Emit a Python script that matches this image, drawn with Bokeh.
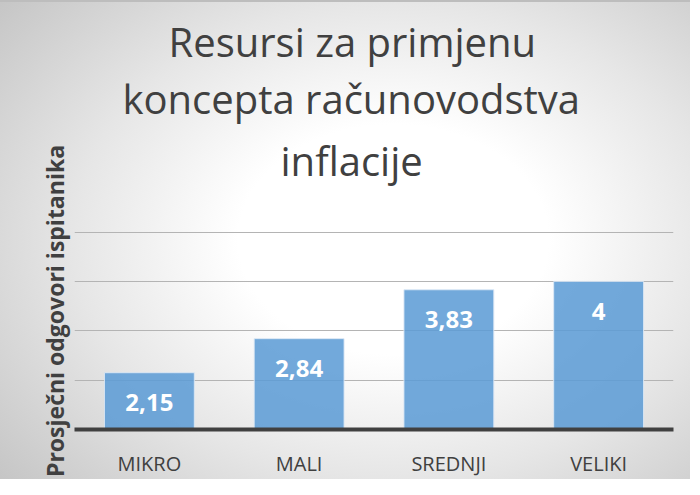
from bokeh.plotting import figure
from bokeh.models import (ColumnDataSource, FactorRange, Range1d, FixedTicker,
                          LabelSet, Title)
from bokeh.core.properties import value
from bokeh.embed import file_html
from bokeh.resources import INLINE

# ---- data ----
categories = ["MIKRO", "MALI", "SREDNJI", "VELIKI"]
values = [2.15, 2.84, 3.83, 4.0]
y_min = 1
y_max = 5.8
y_ticks = [1, 2, 3, 4, 5]
title_lines = ["Resursi za primjenu", "koncepta računovodstva", "inflacije"]
y_label = "Prosječni odgovori ispitanika"

labels = [f"{v:g}".replace(".", ",") for v in values]
source = ColumnDataSource(dict(cat=categories, val=values, lab=labels,
                               base=[y_min] * len(values)))

FONT = "Open Sans"
TXT = "#404040"

p = figure(width=690, height=479, x_range=FactorRange(*categories),
           y_range=Range1d(y_min, y_max), output_backend="svg",
           toolbar_location=None, tools="",
           min_border_left=74, min_border_right=17,
           min_border_top=192, min_border_bottom=47)

p.background_fill_color = None
p.border_fill_color = None
p.outline_line_color = None
p.styles = {
    "background": ("linear-gradient(#bdbdbd, #bdbdbd) 0 0 / 100% 2px no-repeat, "
                   "radial-gradient(ellipse 75% 80% at 57% 50%, #ffffff 0%, #ffffff 30%, "
                   "#e6e6e6 62%, #c4c4c4 100%)"),
}

p.vbar(x="cat", top="val", bottom="base", width=0.6, source=source,
       fill_color="#5b9bd5", fill_alpha=0.86, line_color="#dbe8f5",
       line_alpha=0.9, line_width=1)

p.add_layout(LabelSet(x="cat", y="val", text="lab", source=source,
                      y_offset=-30, text_align="center", text_baseline="middle",
                      text_color="white", text_font=value(FONT),
                      text_font_style="bold", text_font_size="24px"))

# y axis: only the rotated label is visible (no tick labels)
p.yaxis.ticker = FixedTicker(ticks=[])
p.ygrid.ticker = FixedTicker(ticks=y_ticks)
p.yaxis.axis_line_color = None
p.yaxis.major_tick_line_color = None
p.yaxis.minor_tick_line_color = None
p.yaxis.major_tick_out = 0
p.yaxis.minor_tick_out = 0
p.yaxis.major_label_standoff = 0
p.yaxis.axis_label = y_label
p.yaxis.axis_label_text_font = FONT
p.yaxis.axis_label_text_font_style = "bold"
p.yaxis.axis_label_text_font_size = "23px"
p.yaxis.axis_label_text_color = TXT
p.yaxis.axis_label_standoff = 4

p.ygrid.grid_line_color = "#b4b4b4"
p.ygrid.grid_line_width = 1
p.xgrid.grid_line_color = None

p.xaxis.axis_line_color = "#404040"
p.xaxis.axis_line_width = 4
p.xaxis.major_tick_line_color = None
p.xaxis.minor_tick_line_color = None
p.xaxis.major_label_text_font = FONT
p.xaxis.major_label_text_font_size = "20px"
p.xaxis.major_label_text_color = TXT
p.xaxis.major_label_standoff = 14

# title lines: added from the one nearest the plot outwards
standoffs = [0, 0, 10]
offsets = [94, 48, 206]
for line, so, off in reversed(list(zip(title_lines, standoffs, offsets))):
    p.add_layout(Title(text=line, align="left", offset=off, standoff=so,
                       text_font=FONT, text_font_size="40px",
                       text_font_style="normal", text_color=TXT), "above")

open("out.html", "w").write(file_html(p, INLINE))
